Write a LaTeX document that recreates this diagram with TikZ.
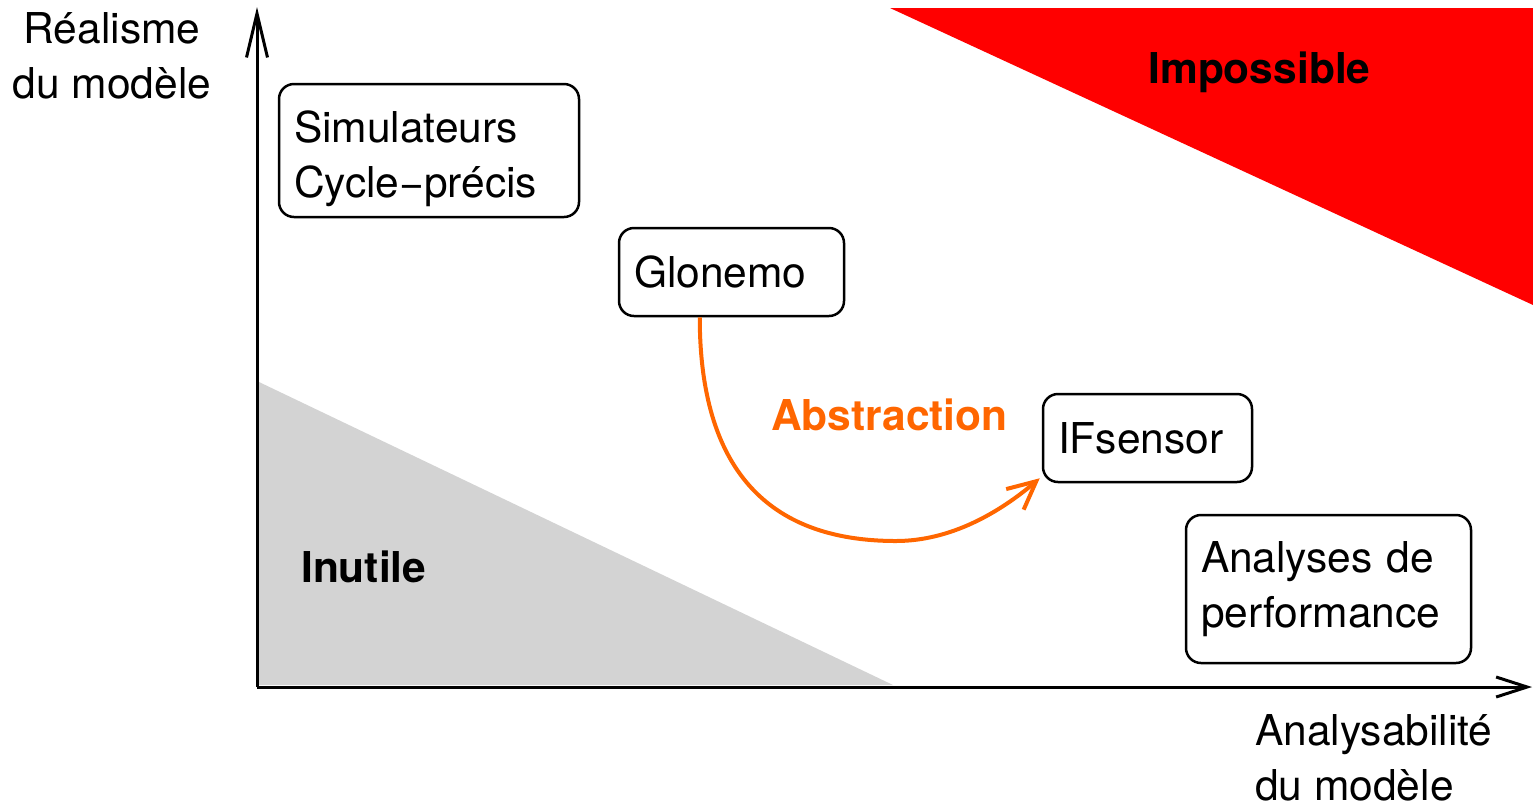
\documentclass[tikz,border=0pt]{standalone}
\usepackage{fontspec}
\setmainfont{TeX Gyre Heros}
\usetikzlibrary{arrows.meta}
\definecolor{absorange}{RGB}{255,102,0}
\definecolor{uselessgray}{RGB}{211,211,211}
\begin{document}
\begin{tikzpicture}[x=1pt,y=-1pt,
  every node/.style={font=\fontsize{42.5}{55}\selectfont, inner sep=0pt},
  modelbox/.style={draw, line width=2.5pt, rounded corners=15pt, align=left,
    inner xsep=15pt, inner ysep=0pt},
  axisline/.style={line width=3pt},
  zonelabel/.style={font=\fontsize{42.5}{55}\selectfont\bfseries, anchor=base west},
  abstrarrow/.style={draw=absorange, line width=4pt,
    -{Straight Barb[length=28pt,width=27pt]}}]
\useasboundingbox (0,0) rectangle (1533,807);

% zones
\fill[red] (890,8) -- (1533,8) -- (1533,305) -- cycle;
\fill[uselessgray] (259,382) -- (259,685) -- (893,685) -- cycle;

% axes
\coordinate (origin) at (257,687);
\coordinate (ytip) at (257,7);
\coordinate (xtip) at (1532,687);
\draw[axisline, -{Straight Barb[length=44pt,width=21pt]}] (origin) -- (ytip);
\draw[axisline, -{Straight Barb[length=31pt,width=20pt]}] (origin) -- (xtip);

% axis titles (base anchor = baseline of the last line)
\node[align=center, anchor=base] (ylabel) at (112,98) {Réalisme\\du modèle};
\node[align=left, anchor=base west] (xlabel) at (1255,800) {Analysabilité\\du modèle};

% zone labels
\node[zonelabel] (impossible) at (1148,83) {Impossible};
\node[zonelabel] (inutile) at (301,582) {Inutile};
\node[zonelabel, text=absorange] (abstraction) at (771,430) {Abstraction};

% models
\node[modelbox, minimum width=300pt, minimum height=133pt, text width=270pt,
  text height=49pt] (simul) at (429,150.5) {Simulateurs\\Cycle{\textminus}précis};
\node[modelbox, minimum width=225pt, minimum height=88pt, text width=195pt]
  (glonemo) at (731.5,272) {Glonemo};
\node[modelbox, minimum width=209pt, minimum height=88pt, text width=179pt]
  (ifsensor) at (1147.5,438) {IFsensor};
\node[modelbox, minimum width=285pt, minimum height=148pt, text width=255pt]
  (perf) at (1328.5,589) {Analyses de\\performance};

% abstraction step
\coordinate (arcbottom) at (896,541);
\draw[abstrarrow] ([xshift=82pt]glonemo.south west)
  .. controls +(0,150) and +(-130,0) .. (arcbottom)
  .. controls +(55,0) and +(-40,34) .. ([xshift=-2pt,yshift=5pt]ifsensor.south west);
\end{tikzpicture}
\end{document}
